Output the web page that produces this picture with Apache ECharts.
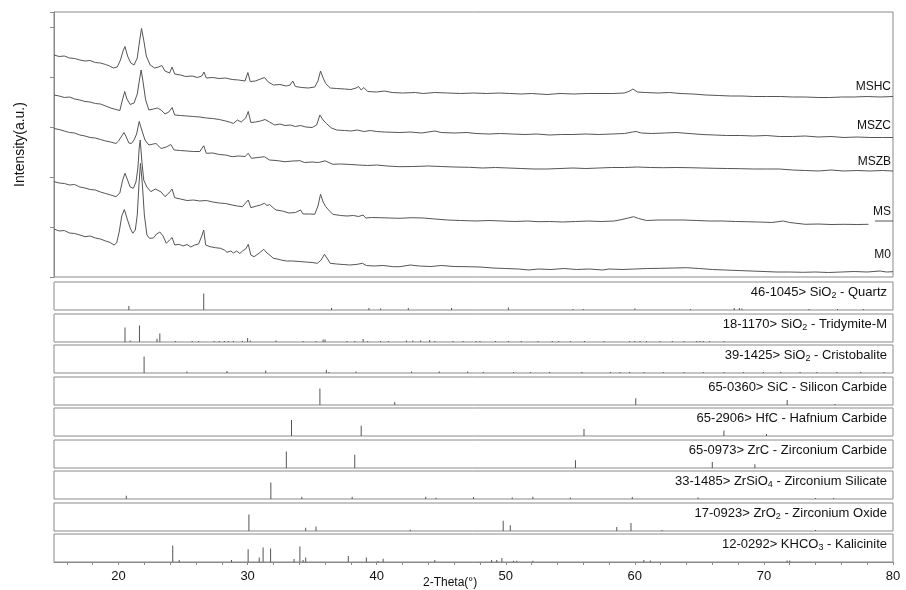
<!DOCTYPE html>
<html>
<head>
<meta charset="utf-8">
<script src="https://cdn.jsdelivr.net/npm/echarts@6.0.0/dist/echarts.min.js"></script>
<style>
  html, body { margin: 0; padding: 0; background: #fff; }
  #main { width: 906px; height: 590px; }
</style>
</head>
<body>
<div id="main"></div>
<script>
// 2-Theta axis
var tickValues = [16, 18, 20, 22, 24, 26, 28, 30, 32, 34, 36, 38, 40, 42, 44, 46, 48, 50, 52, 54, 56, 58, 60, 62, 64, 66, 68, 70, 72, 74, 76, 78, 80];
var labelValues = [20, 30, 40, 50, 60, 70, 80];

// measured patterns [2theta, intensity a.u.]
var mshc = [[15.0,222],[15.4,220.5],[15.8,221],[16.2,219],[16.6,218.5],[17.0,217],[17.4,216],[17.8,216.5],[18.2,214.5],[18.6,214],[19.0,212.5],[19.3,211],[19.6,209],[19.9,210],[20.15,217],[20.35,226],[20.5,230.5],[20.7,221],[20.95,214],[21.2,212],[21.45,219],[21.62,235],[21.78,248.5],[21.95,237],[22.15,221],[22.45,212],[22.8,209],[23.1,210],[23.35,211.5],[23.6,206],[23.95,204],[24.15,210],[24.35,203],[24.8,202],[25.2,200.5],[25.7,201],[26.1,199.5],[26.45,201],[26.62,205],[26.8,199],[27.3,199.5],[27.8,198.5],[28.3,199],[28.8,197.5],[29.3,197],[29.8,196],[30.02,204.5],[30.2,195.5],[30.6,196],[31.0,198],[31.3,199.5],[31.6,195],[32.0,192],[32.5,192.5],[33.0,191],[33.3,192],[33.5,196],[33.7,190.5],[34.2,189.5],[34.7,189],[35.2,190],[35.45,196],[35.65,206],[35.85,199],[36.05,193.5],[36.4,189],[36.9,188.5],[37.5,188],[38.0,187.5],[38.4,189],[38.6,190.5],[38.8,187],[39.0,189.5],[39.3,185.5],[40.0,185],[40.6,186],[41.2,184.5],[42.0,184],[43.0,184.5],[43.6,183.5],[44.5,184.5],[45.5,184],[46.5,183.5],[47.5,184],[48.5,183.5],[49.5,184],[50.3,183.5],[51.2,183],[52.0,183.5],[53.2,182.5],[54.2,183.5],[55.3,183],[56.3,183.5],[57.3,183.5],[58.3,183.5],[59.2,184],[59.6,186],[59.85,188],[60.2,185],[60.8,184.5],[61.8,184],[62.7,184.5],[63.5,183.5],[64.5,183],[65.5,182],[66.5,181.5],[67.4,181],[68.3,181],[69.2,180.5],[70.2,180.5],[71.3,180.5],[72.2,180],[73.2,180],[74.2,179.5],[75.1,179.5],[76.0,180],[77.0,180],[78.0,180.5],[79.0,180],[80.0,180.5]];
var mszc = [[15.0,182],[15.4,181],[15.8,179.5],[16.2,180],[16.6,178],[17.0,177],[17.4,175.5],[17.8,175],[18.2,173.5],[18.6,173],[19.0,171],[19.4,169],[19.8,167.5],[20.1,166.5],[20.3,177],[20.48,185.5],[20.65,178],[20.9,172.5],[21.2,174],[21.45,183],[21.62,197],[21.75,207],[21.9,195],[22.1,177],[22.35,167],[22.7,168],[23.0,169],[23.3,167],[23.6,163],[23.9,165],[24.15,169.5],[24.35,162],[24.8,161.5],[25.3,161],[25.8,160.5],[26.3,160],[26.8,159],[27.3,158.5],[27.8,157.5],[28.3,156],[28.6,155],[28.9,153.5],[29.2,157],[29.5,155],[29.85,159],[30.05,165.5],[30.25,154.5],[30.6,155],[31.0,156],[31.35,157.5],[31.7,155],[32.1,152],[32.5,153],[32.9,151.5],[33.3,152],[33.7,150.5],[34.1,151.5],[34.5,150],[35.0,149.5],[35.35,152],[35.6,162],[35.85,157],[36.1,153.5],[36.5,149],[36.9,147],[37.5,146.5],[38.0,146],[38.5,147],[39.0,145.5],[39.5,146.5],[40.0,145.5],[40.6,145],[41.8,144.5],[42.6,145],[43.5,144],[44.5,146],[45.0,144.5],[46.0,144],[47.0,144.5],[47.7,143.5],[48.7,143],[49.6,143.5],[50.5,143],[51.5,142.5],[52.4,143],[53.4,142],[54.3,142.5],[55.2,142.5],[56.2,143],[57.2,142.5],[58.2,143],[59.2,143.5],[59.8,145],[60.1,145.5],[60.5,144],[61.3,143.5],[62.3,144],[63.2,144.5],[64.2,143.5],[65.2,142.5],[66.2,142],[67.1,141.5],[68.2,141.5],[69.2,141],[70.2,141.5],[71.2,140.5],[72.2,140.5],[73.2,141],[74.2,140],[75.2,140.5],[76.2,139.5],[77.2,140],[78.2,139.5],[79.2,139.5],[80.0,139.5]];
var mszb = [[15.0,148.5],[15.4,147.5],[15.8,146],[16.2,144.5],[16.6,144],[17.0,142],[17.4,141],[17.8,139.5],[18.2,139],[18.6,137.5],[19.0,136],[19.4,135],[19.8,133.5],[20.0,136],[20.2,140],[20.42,144.5],[20.6,140],[20.8,134],[21.0,133.5],[21.2,137],[21.4,143],[21.6,155.5],[21.8,147],[22.05,137],[22.35,132],[22.7,133],[22.9,133.5],[23.3,128.5],[23.7,130],[24.05,132.5],[24.3,127],[24.8,126.5],[25.3,126],[25.8,125.5],[26.3,125.5],[26.6,131.3],[26.8,123.7],[27.3,124],[27.8,122.5],[28.3,122],[28.8,120.3],[29.3,121],[29.8,120.5],[30.05,123.7],[30.3,118.7],[30.8,119.5],[31.3,120.3],[31.7,117],[32.2,116.5],[32.9,115.3],[33.5,116],[34.05,116.3],[34.4,114.5],[35.0,115],[35.5,114.5],[36.0,116.2],[36.6,112.7],[37.2,113],[38.0,112.5],[38.6,112],[39.3,111.5],[40.0,112],[40.8,111],[41.8,110.3],[42.8,110.5],[44.0,111],[45.0,110.5],[46.0,110],[47.2,109.7],[48.2,109],[49.2,109.5],[50.2,109],[51.2,108.5],[52.2,108],[53.2,108],[54.2,108.5],[55.2,109],[56.2,108.5],[57.2,109],[58.2,109.5],[59.2,109.5],[60.2,110],[61.2,109.5],[62.2,109.3],[63.2,109.5],[64.2,109.3],[65.2,109],[66.2,108.7],[67.2,108.5],[68.2,108.3],[69.2,108],[70.2,108],[71.2,108],[72.2,107],[73.2,106.5],[74.2,106],[75.2,107],[76.2,106],[77.2,106.5],[78.2,106],[79.2,106.5],[80.0,106]];
var ms = [[15.0,95.3],[15.4,94],[15.8,93.5],[16.2,92],[16.6,92.5],[17.0,90],[17.4,89],[17.8,87.5],[18.2,87],[18.6,85],[19.0,83.5],[19.4,82],[19.8,80.3],[20.1,84],[20.3,96],[20.5,103.7],[20.7,97],[20.9,90],[21.15,88.7],[21.35,95],[21.5,109],[21.6,129],[21.68,137],[21.8,117],[21.95,97],[22.2,90],[22.5,85.3],[22.85,88],[23.0,89.3],[23.3,85],[23.6,80.3],[23.9,84],[24.15,88],[24.35,79.3],[24.8,78],[25.3,76.5],[25.8,77],[26.3,76],[26.8,76.5],[27.3,75],[27.8,74],[28.3,73.5],[28.8,72],[29.2,71],[29.6,70.3],[30.05,77],[30.25,69.3],[30.7,71],[31.0,72],[31.3,73.7],[31.5,71.5],[31.7,72.5],[32.0,69],[32.2,67],[32.7,66],[33.2,64],[33.7,64.5],[34.1,67],[34.3,63],[34.8,63],[35.2,62.7],[35.45,71],[35.65,82.7],[35.85,75],[36.05,70.3],[36.35,66],[36.6,62.7],[37.2,61.5],[37.7,61],[38.2,61.5],[38.6,60.5],[38.95,62],[39.15,59],[39.6,59.5],[40.3,59.3],[41.0,59],[41.8,58.7],[42.7,59.3],[43.6,59],[44.5,58],[45.5,57],[46.5,56.5],[47.7,56],[48.7,56.5],[49.7,56],[50.7,55.5],[51.7,56],[52.5,55.3],[53.4,55.5],[54.4,55],[55.4,55.5],[56.4,56],[57.4,55.5],[58.4,56],[59.0,57.5],[59.5,59],[59.9,60.3],[60.3,58.5],[60.9,56.5],[61.8,57],[62.8,57],[63.8,57],[64.8,56.5],[65.8,56],[66.8,56],[67.8,55.5],[68.6,55.3],[69.6,55],[70.6,54.5],[71.5,56],[72.0,54.5],[73.2,52.7],[74.2,53],[75.2,52.5],[76.2,52.7],[77.2,52.5],[78.1,52.7],[78.3,'-'],[78.6,56],[80.0,56]];
var m0 = [[15.0,48],[15.4,46],[15.8,46.5],[16.2,44],[16.6,43.5],[17.0,42],[17.4,40.3],[17.8,41],[18.2,39],[18.6,38],[19.0,36],[19.35,34.5],[19.65,32],[19.85,34],[20.05,45],[20.25,61],[20.45,67.5],[20.65,59],[20.9,49],[21.1,43.7],[21.3,47],[21.45,62],[21.58,92],[21.7,113.7],[21.85,92],[22.0,62],[22.2,42],[22.4,38.7],[22.7,39],[22.95,43],[23.2,45],[23.45,41],[23.7,33.7],[23.95,37],[24.15,39.5],[24.35,32],[24.7,32.7],[25.0,31],[25.3,32.5],[25.6,30],[25.9,32],[26.2,33],[26.45,41],[26.6,47],[26.75,32],[27.1,30.3],[27.5,29.3],[27.9,28.7],[28.2,27],[28.4,24.7],[28.7,26],[28.9,24],[29.15,26],[29.4,23.5],[29.6,26],[29.85,28],[30.05,32.7],[30.25,22],[30.5,20.3],[30.8,23],[31.0,25],[31.25,27.7],[31.5,24],[31.8,21],[32.0,18.7],[32.3,18],[32.6,17],[33.0,16],[33.5,16],[34.0,15.5],[34.5,15],[35.0,14.5],[35.4,13.7],[35.7,17],[35.95,22.7],[36.2,18],[36.4,13.7],[36.9,13],[37.4,12.5],[37.9,12],[38.4,12.5],[38.9,13.7],[39.2,11.5],[39.8,11],[40.5,11.5],[41.3,10.3],[41.8,10.3],[42.6,12],[43.3,11],[44.2,10.5],[45.0,11.5],[46.0,10.5],[47.0,10.3],[48.0,10],[49.0,9],[50.0,8.5],[51.0,8],[51.8,7],[52.5,8],[53.5,7.5],[54.5,8.5],[55.5,7.5],[56.5,8],[57.5,7],[58.0,8],[59.0,7.5],[60.0,8],[61.0,8.5],[62.0,8.7],[63.0,9],[64.0,9.3],[65.0,8.5],[66.0,7.5],[67.0,7],[68.0,6.5],[69.0,6],[70.0,5.5],[71.0,5],[72.0,5],[73.0,4.7],[74.0,5],[75.0,4.5],[76.0,5],[77.0,5.5],[78.0,5],[79.0,6],[79.5,5],[80.0,5.3]];

var sampleNames = ['MSHC', 'MSZC', 'MSZB', 'MS', 'M0'];

// reference cards [2theta, relative intensity]
var quartz = [[20.8,25],[26.6,100],[36.5,12],[39.4,12],[40.3,9],[42.45,12],[45.8,12],[50.2,15],[55.2,6],[56.0,6],[60.0,9],[64.3,6],[67.7,12],[68.1,12],[68.3,9],[73.5,6],[75.7,6],[77.7,6]];
var tridymite = [[20.5,88],[20.9,9],[21.62,100],[22.98,20],[23.2,51],[24.4,6],[25.7,6],[26.2,6],[27.4,6],[27.8,6],[28.2,6],[28.5,6],[28.9,6],[29.6,6],[30.0,25],[30.2,9],[32.2,9],[34.3,6],[35.3,6],[35.85,15],[36.0,15],[37.7,6],[38.3,6],[38.95,18],[39.3,6],[40.3,6],[40.9,6],[42.3,9],[42.8,9],[43.4,9],[44.1,12],[44.5,6],[45.9,6],[46.7,6],[47.7,6],[48.0,6],[49.2,6],[50.2,6],[51.2,6],[52.5,6],[53.6,6],[54.1,6],[55.0,6],[56.1,6],[57.6,6],[59.6,6],[60.0,6],[60.4,6],[60.9,6],[61.95,6],[62.9,6],[63.8,6],[64.8,6],[65.06,6],[65.3,6],[65.8,6],[66.9,6]];
var cristobalite = [[21.98,100],[25.3,9],[28.4,12],[31.4,15],[36.1,18],[36.3,6],[38.4,9],[42.7,9],[44.85,9],[47.05,9],[48.26,6],[50.6,6],[51.9,6],[53.4,6],[55.9,6],[58.1,6],[58.85,6],[59.6,6],[60.7,6],[62.2,6],[63.8,6],[65.3,6],[66.9,6],[68.4,6],[69.96,6],[71.3,6],[72.8,6],[74.1,6],[75.65,6],[77.5,6],[79.3,6]];
var sic = [[35.6,100],[41.4,18],[60.07,41],[71.8,31],[75.5,6]];
var hfc = [[33.4,97],[38.8,62],[56.06,43],[66.9,33],[70.2,12]];
var zrc = [[33.0,100],[38.3,80],[55.4,47],[66.0,37],[69.3,23]];
var zrsio4 = [[20.6,20],[31.8,100],[34.2,14],[38.1,14],[43.8,14],[44.6,8],[47.5,12],[50.5,9],[52.1,14],[55.0,9],[59.8,12],[64.9,9],[74.0,6],[75.4,6]];
var zro2 = [[30.1,100],[34.5,20],[35.3,27],[42.6,8],[49.8,62],[50.35,35],[58.6,25],[59.7,49],[62.1,6],[74.0,6]];
var khco3 = [[24.2,100],[24.7,12],[28.75,12],[30.04,78],[30.9,27],[31.2,88],[31.78,82],[33.6,18],[34.05,94],[34.3,12],[34.5,27],[37.8,37],[39.2,27],[40.1,6],[40.5,20],[44.5,12],[48.9,12],[49.3,12],[49.7,25],[50.6,8],[50.85,8],[52.1,8],[60.7,12],[61.2,9],[71.8,9],[72.0,9]];

var cards = [quartz, tridymite, cristobalite, sic, hfc, zrc, zrsio4, zro2, khco3];
var cardNames = [
  '46-1045> SiO{s|2} - Quartz',
  '18-1170> SiO{s|2} - Tridymite-M',
  '39-1425> SiO{s|2} - Cristobalite',
  '65-0360> SiC - Silicon Carbide',
  '65-2906> HfC - Hafnium Carbide',
  '65-0973> ZrC - Zirconium Carbide',
  '33-1485> ZrSiO{s|4} - Zirconium Silicate',
  '17-0923> ZrO{s|2} - Zirconium Oxide',
  '12-0292> KHCO{s|3} - Kalicinite'
];

var FONT = '"Liberation Sans", Arial, sans-serif';
var BORDER = '#8a8a8a';

var chart = echarts.init(document.getElementById('main'));

var grids = [{ left: 54, right: 13, top: 12, height: 265, show: true, borderColor: BORDER, borderWidth: 1 }];
var xAxes = [{ type: 'value', gridIndex: 0, min: 15, max: 80, show: false }];
var yAxes = [{
  type: 'value', gridIndex: 0, min: 0, max: 265, interval: 50,
  name: 'Intensity(a.u.)', nameLocation: 'middle', nameGap: 27,
  nameTextStyle: { fontSize: 14, fontFamily: FONT, color: '#111' },
  axisLine: { show: true, lineStyle: { color: BORDER } },
  axisTick: { show: true, length: 4, lineStyle: { color: BORDER } },
  axisLabel: { show: false },
  splitLine: { show: false }
}];
var series = [];
var graphics = [];

[mshc, mszc, mszb, ms, m0].forEach(function (d, i) {
  series.push({
    name: sampleNames[i], type: 'line', xAxisIndex: 0, yAxisIndex: 0,
    data: d, showSymbol: false, symbol: 'none', connectNulls: false,
    lineStyle: { color: '#555', width: 1 }, silent: true
  });
});

var labelY = [87, 126, 162, 212, 255];
sampleNames.forEach(function (n, i) {
  graphics.push({
    type: 'text', x: 891, y: labelY[i],
    style: { text: n, fill: '#111', fontSize: 12, fontFamily: FONT, align: 'right', verticalAlign: 'middle' }
  });
});

cards.forEach(function (d, i) {
  var top = Math.round(282 + i * 31.5);
  var last = i === cards.length - 1;
  grids.push({ left: 54, right: 13, top: top, height: 28, show: true, borderColor: BORDER, borderWidth: 1 });
  xAxes.push(last ? {
    type: 'value', gridIndex: i + 1, min: 15, max: 80,
    axisLine: { show: true, lineStyle: { color: BORDER } },
    axisTick: { show: true, customValues: tickValues, length: 3, lineStyle: { color: BORDER } },
    axisLabel: { customValues: labelValues, fontSize: 13, fontFamily: FONT, color: '#111', margin: 8 },
    splitLine: { show: false }
  } : { type: 'value', gridIndex: i + 1, min: 15, max: 80, show: false });
  yAxes.push({ type: 'value', gridIndex: i + 1, min: 0, max: 170, show: false });
  series.push({
    type: 'bar', xAxisIndex: i + 1, yAxisIndex: i + 1, data: d,
    barWidth: 1, itemStyle: { color: '#555' }, silent: true
  });
  graphics.push({
    type: 'text', x: 887, y: top + 10.5,
    style: {
      text: cardNames[i], fill: '#111', fontSize: 13, fontFamily: FONT, lineHeight: 16,
      align: 'right', verticalAlign: 'middle',
      rich: { s: { fontSize: 9, fontFamily: FONT, lineHeight: 8, verticalAlign: 'bottom' } }
    }
  });
});

graphics.push({
  type: 'text', x: 423, y: 583,
  style: { text: '2-Theta(°)', fill: '#111', fontSize: 12, fontFamily: FONT, verticalAlign: 'middle' }
});

chart.setOption({
  animation: false,
  backgroundColor: '#fff',
  grid: grids,
  xAxis: xAxes,
  yAxis: yAxes,
  series: series,
  graphic: graphics
});
</script>
</body>
</html>
